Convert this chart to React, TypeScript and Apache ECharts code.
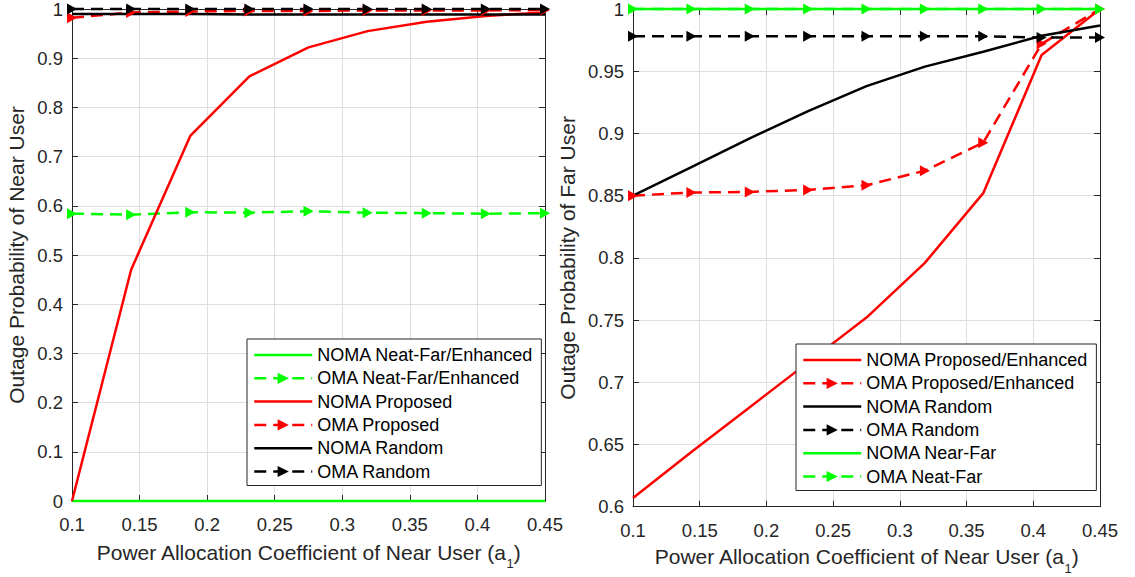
import { useEffect, useRef } from "react";
import * as echarts from "echarts";

// Power allocation coefficient of the near user (a1), shared by both panels
const alpha = [0.1, 0.14375, 0.1875, 0.23125, 0.275, 0.31875, 0.3625, 0.40625, 0.45];

// Outage probability of the near user
const nearNomaNeatFar = [0, 0, 0, 0, 0, 0, 0, 0, 0];
const nearOmaNeatFar = [0.584, 0.582, 0.587, 0.586, 0.589, 0.586, 0.585, 0.584, 0.585];
const nearNomaProposed = [0, 0.47, 0.742, 0.863, 0.922, 0.955, 0.974, 0.986, 0.993];
const nearOmaProposed = [0.982, 0.993, 0.995, 0.996, 0.996, 0.997, 0.997, 0.997, 0.998];
const nearNomaRandom = [0.99, 0.99, 0.99, 0.989, 0.989, 0.989, 0.989, 0.989, 0.989];
const nearOmaRandom = [1, 1, 1, 1, 1, 1, 1, 1, 1];

// Outage probability of the far user
const farNomaProposed = [0.607, 0.644, 0.68, 0.716, 0.752, 0.796, 0.852, 0.963, 1.0];
const farOmaProposed = [0.85, 0.8525, 0.853, 0.8546, 0.8584, 0.87, 0.8926, 0.972, 1.0];
const farNomaRandom = [0.85, 0.873, 0.896, 0.918, 0.938, 0.9537, 0.9657, 0.9785, 0.9867];
const farOmaRandom = [0.978, 0.978, 0.978, 0.978, 0.978, 0.978, 0.978, 0.977, 0.977];
const farNomaNearFar = [1, 1, 1, 1, 1, 1, 1, 1, 1];
const farOmaNeatFar = [1, 1, 1, 1, 1, 1, 1, 1, 1];

const nearNames = [
  "NOMA Neat-Far/Enhanced",
  "OMA Neat-Far/Enhanced",
  "NOMA Proposed",
  "OMA Proposed",
  "NOMA Random",
  "OMA Random",
];
const farNames = [
  "NOMA Proposed/Enhanced",
  "OMA Proposed/Enhanced",
  "NOMA Random",
  "OMA Random",
  "NOMA Near-Far",
  "OMA Neat-Far",
];

const xTicks = { min: 0.1, max: 0.45, interval: 0.05 };
const nearTicks = { min: 0, max: 1, interval: 0.1 };
const farTicks = { min: 0.6, max: 1, interval: 0.05 };

const FONT = "'Liberation Sans', Arial, Helvetica, sans-serif";
const AXIS = "#262626";
const GRID = "#dfdfdf";
const GREEN = "#00ff00";
const RED = "#ff0000";
const BLACK = "#000000";
const LINE_W = 2.5;

function curve(
  name: string,
  values: number[],
  color: string,
  dashed: boolean,
  axisIndex: number
) {
  return {
    type: "line",
    name,
    xAxisIndex: axisIndex,
    yAxisIndex: axisIndex,
    data: alpha.map((a, i) => [a, values[i]]),
    symbol: dashed ? "triangle" : "none",
    showSymbol: dashed,
    symbolRotate: -90,
    symbolSize: [11, 10],
    clip: false,
    lineStyle: { color, width: LINE_W, type: dashed ? [12, 7] : "solid" },
    itemStyle: { color },
    emphasis: { disabled: true },
  };
}

function mainX(gridIndex: number, nameGap: number) {
  return {
    type: "value",
    gridIndex,
    ...xTicks,
    name: "Power Allocation Coefficient of Near User (a{s|1})",
    nameLocation: "middle",
    nameGap,
    nameTextStyle: {
      fontFamily: FONT,
      fontSize: 21,
      color: AXIS,
      rich: { s: { fontFamily: FONT, fontSize: 13, color: AXIS, padding: [23, 0, 0, 0] } },
    },
    axisLine: { show: true, onZero: false, lineStyle: { color: AXIS, width: 1 } },
    axisTick: { show: true, inside: true, length: 6, lineStyle: { color: AXIS } },
    axisLabel: { margin: 14, fontFamily: FONT, fontSize: 18.5, color: AXIS },
    splitLine: { show: true, lineStyle: { color: GRID, width: 1 } },
  };
}

function topX(gridIndex: number) {
  return {
    type: "value",
    gridIndex,
    position: "top",
    ...xTicks,
    axisLine: { show: true, onZero: false, lineStyle: { color: AXIS, width: 1 } },
    axisTick: { show: true, inside: true, length: 6, lineStyle: { color: AXIS } },
    axisLabel: { show: false },
    splitLine: { show: false },
  };
}

function mainY(gridIndex: number, ticks: typeof nearTicks, name: string, nameGap: number) {
  return {
    type: "value",
    gridIndex,
    ...ticks,
    name,
    nameLocation: "middle",
    nameGap,
    nameTextStyle: { fontFamily: FONT, fontSize: 21, color: AXIS },
    axisLine: { show: true, onZero: false, lineStyle: { color: AXIS, width: 1 } },
    axisTick: { show: true, inside: true, length: 6, lineStyle: { color: AXIS } },
    axisLabel: { margin: 9, fontFamily: FONT, fontSize: 18.5, color: AXIS },
    splitLine: { show: true, lineStyle: { color: GRID, width: 1 } },
  };
}

function rightY(gridIndex: number, ticks: typeof nearTicks) {
  return {
    type: "value",
    gridIndex,
    position: "right",
    ...ticks,
    axisLine: { show: true, onZero: false, lineStyle: { color: AXIS, width: 1 } },
    axisTick: { show: true, inside: true, length: 6, lineStyle: { color: AXIS } },
    axisLabel: { show: false },
    splitLine: { show: false },
  };
}

// Solid curves carry no marker, so their legend entries show the line alone
function legendBox(names: string[], left: number, top: number) {
  return {
    data: names.map((name) =>
      name.startsWith("NOMA")
        ? { name, itemStyle: { opacity: 0 }, lineStyle: { width: LINE_W, opacity: 1 } }
        : { name, lineStyle: { width: LINE_W } }
    ),
    orient: "vertical",
    left,
    top,
    itemWidth: 58,
    itemHeight: 14,
    itemGap: 3.3,
    padding: [6, 8, 4, 6],
    borderColor: AXIS,
    borderWidth: 1,
    borderRadius: 0,
    backgroundColor: "#ffffff",
    selectedMode: false,
    textStyle: { fontFamily: FONT, fontSize: 18, color: "#000", lineHeight: 20 },
  };
}

export default function App() {
  const ref = useRef<HTMLDivElement>(null);

  useEffect(() => {
    if (!ref.current) return;
    const chart = echarts.init(ref.current, undefined, { renderer: "svg" });

    chart.setOption({
      animation: false,
      backgroundColor: "#ffffff",
      grid: [
        { left: 72, top: 9, width: 473, height: 492, containLabel: false, outerBoundsMode: "none" },
        { left: 633, top: 9, width: 467, height: 497.7, containLabel: false, outerBoundsMode: "none" },
      ],
      xAxis: [mainX(0, 33), mainX(1, 32), topX(0), topX(1)],
      yAxis: [
        mainY(0, nearTicks, "Outage Probability of Near User", 45),
        mainY(1, farTicks, "Outage Probability of Far User", 55),
        rightY(0, nearTicks),
        rightY(1, farTicks),
      ],
      legend: [legendBox(nearNames, 247, 339), legendBox(farNames, 796, 344)],
      series: [
        curve(nearNames[0], nearNomaNeatFar, GREEN, false, 0),
        curve(nearNames[1], nearOmaNeatFar, GREEN, true, 0),
        curve(nearNames[2], nearNomaProposed, RED, false, 0),
        curve(nearNames[3], nearOmaProposed, RED, true, 0),
        curve(nearNames[4], nearNomaRandom, BLACK, false, 0),
        curve(nearNames[5], nearOmaRandom, BLACK, true, 0),
        curve(farNames[0], farNomaProposed, RED, false, 1),
        curve(farNames[1], farOmaProposed, RED, true, 1),
        curve(farNames[2], farNomaRandom, BLACK, false, 1),
        curve(farNames[3], farOmaRandom, BLACK, true, 1),
        curve(farNames[4], farNomaNearFar, GREEN, false, 1),
        curve(farNames[5], farOmaNeatFar, GREEN, true, 1),
      ],
    });

    return () => chart.dispose();
  }, []);

  return (
    <div
      ref={ref}
      style={{ position: "fixed", left: 0, top: 0, width: 1135, height: 577, background: "#fff" }}
    />
  );
}
